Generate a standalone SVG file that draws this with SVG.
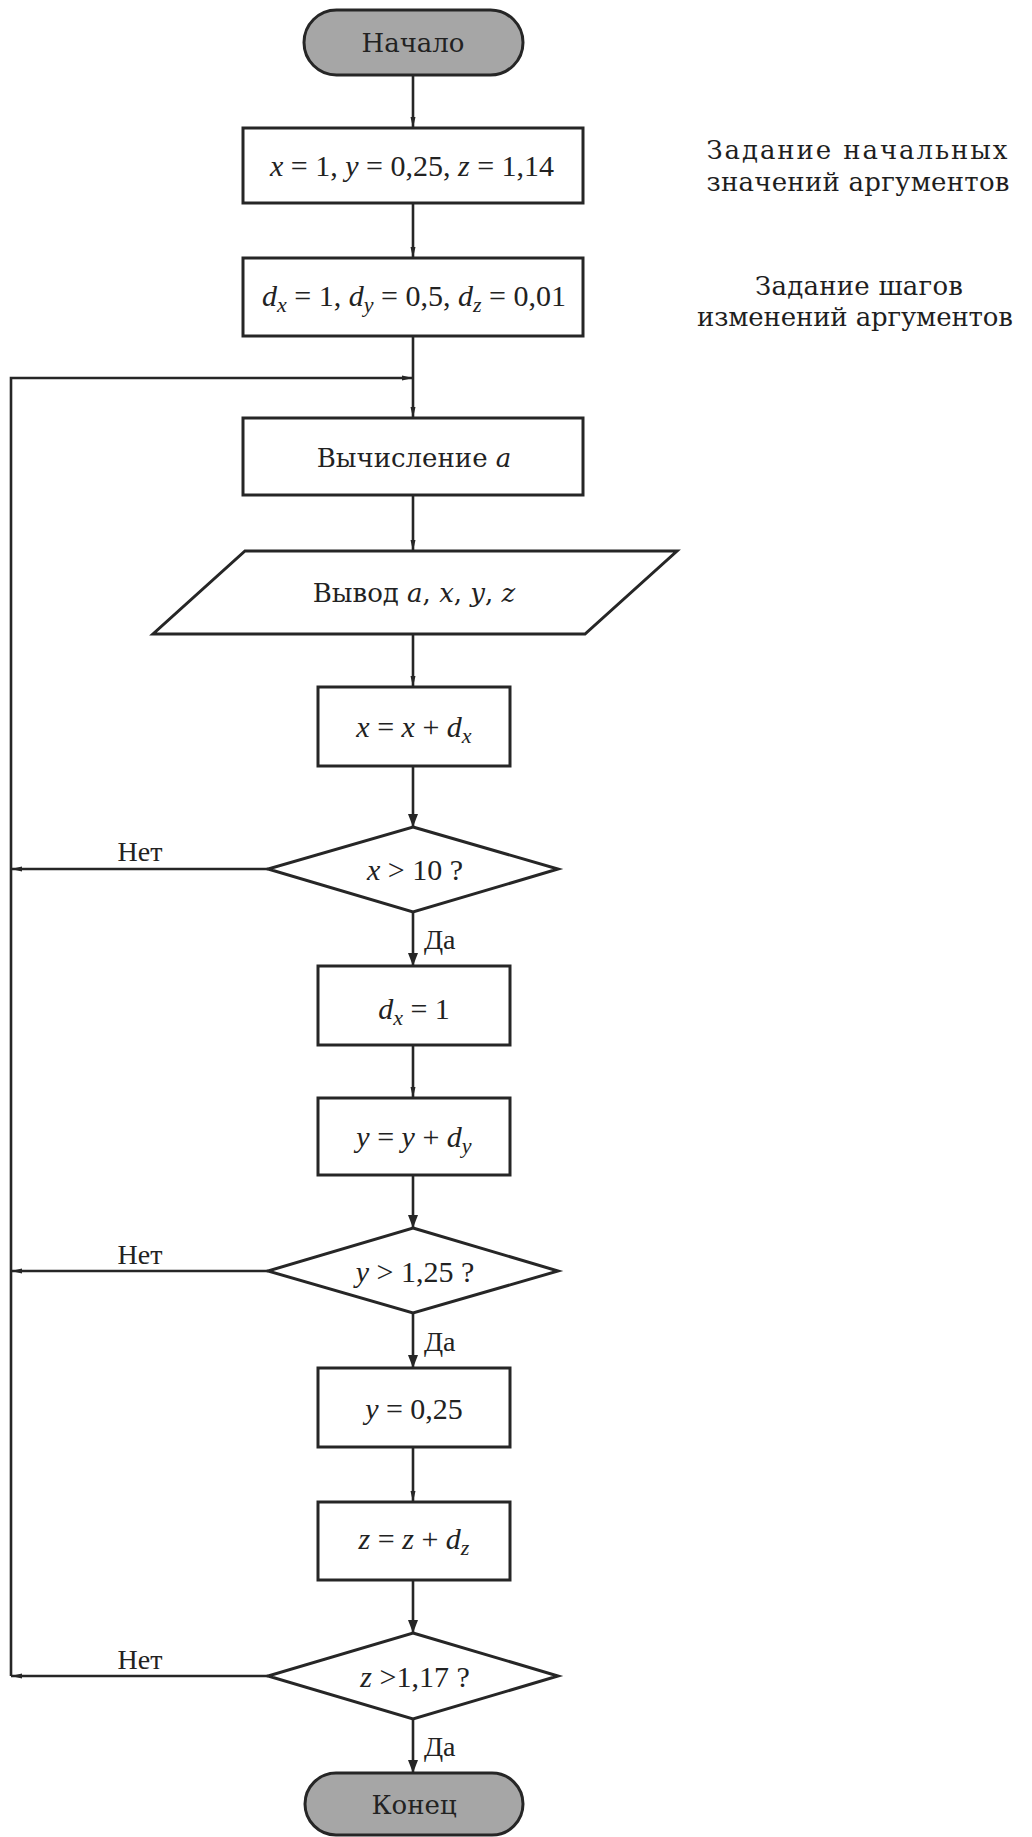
<svg xmlns="http://www.w3.org/2000/svg" width="1032" height="1837" viewBox="0 0 1032 1837">
<style>
.bg{fill:#ffffff}
.shape{fill:#ffffff;stroke:#262626;stroke-width:3}
.term{fill:#a6a6a6;stroke:#262626;stroke-width:3}
.conn{fill:none;stroke:#262626;stroke-width:2.6}
.t{font-family:"DejaVu Serif","Liberation Serif",serif;font-size:26px;fill:#222;text-anchor:middle}
.m{font-family:"Liberation Serif","Times New Roman",serif;font-size:30px;fill:#222;text-anchor:middle}
.i{font-style:italic}
.lbl{font-family:"Liberation Serif","Times New Roman",serif;font-size:28px;fill:#222}
.note{font-family:"DejaVu Serif","Liberation Serif",serif;font-size:26px;fill:#1e1e1e;text-anchor:middle}
</style>
<defs>
<marker id="arr" markerUnits="userSpaceOnUse" markerWidth="14" markerHeight="10" refX="13" refY="5" orient="auto">
<path d="M0,0 L13,5 L0,10 z" fill="#262626"/>
</marker>
<marker id="tick" markerUnits="userSpaceOnUse" markerWidth="12" markerHeight="6" refX="11" refY="3" orient="auto">
<path d="M0,0.5 L11,3 L0,5.5 z" fill="#262626"/>
</marker>
</defs>
<rect class="bg" x="0" y="0" width="1032" height="1837"/>

<g id="connectors">
<line class="conn" x1="413" y1="75" x2="413" y2="128" marker-end="url(#tick)"/>
<line class="conn" x1="413" y1="203" x2="413" y2="258" marker-end="url(#tick)"/>
<line class="conn" x1="413" y1="336" x2="413" y2="418" marker-end="url(#tick)"/>
<line class="conn" x1="413" y1="495" x2="413" y2="551" marker-end="url(#tick)"/>
<line class="conn" x1="413" y1="634" x2="413" y2="687" marker-end="url(#tick)"/>
<line class="conn" x1="413" y1="766" x2="413" y2="827" marker-end="url(#arr)"/>
<line class="conn" x1="413" y1="912" x2="413" y2="966" marker-end="url(#arr)"/>
<line class="conn" x1="413" y1="1045" x2="413" y2="1098" marker-end="url(#tick)"/>
<line class="conn" x1="413" y1="1175" x2="413" y2="1228" marker-end="url(#arr)"/>
<line class="conn" x1="413" y1="1313" x2="413" y2="1368" marker-end="url(#arr)"/>
<line class="conn" x1="413" y1="1447" x2="413" y2="1502" marker-end="url(#tick)"/>
<line class="conn" x1="413" y1="1580" x2="413" y2="1633" marker-end="url(#arr)"/>
<line class="conn" x1="413" y1="1719" x2="413" y2="1773" marker-end="url(#arr)"/>
<line class="conn" x1="268" y1="869" x2="11" y2="869" marker-end="url(#tick)"/>
<line class="conn" x1="268" y1="1271" x2="11" y2="1271" marker-end="url(#tick)"/>
<line class="conn" x1="268" y1="1676" x2="11" y2="1676" marker-end="url(#tick)"/>
<polyline class="conn" points="11,1676 11,378 413,378" marker-end="url(#tick)"/>
<text class="lbl" x="140" y="861" text-anchor="middle">Нет</text>
<text class="lbl" x="140" y="1264" text-anchor="middle">Нет</text>
<text class="lbl" x="140" y="1669" text-anchor="middle">Нет</text>
<text class="lbl" x="424" y="949">Да</text>
<text class="lbl" x="424" y="1351">Да</text>
<text class="lbl" x="424" y="1756">Да</text>
</g>

<g id="start">
<rect class="term" x="304" y="10" width="219" height="65" rx="32.5"/>
<text class="t" x="413" y="52">Начало</text>
</g>

<g id="init">
<rect class="shape" x="243" y="128" width="340" height="75"/>
<text class="m" x="412" y="176"><tspan class="i">x</tspan> = 1, <tspan class="i">y</tspan> = 0,25, <tspan class="i">z</tspan> = 1,14</text>
</g>

<g id="steps">
<rect class="shape" x="243" y="258" width="340" height="78"/>
<text class="m" x="414" y="306"><tspan class="i">d</tspan><tspan class="i" font-size="22" dy="6">x</tspan><tspan dy="-6"> = 1, </tspan><tspan class="i">d</tspan><tspan class="i" font-size="22" dy="6">y</tspan><tspan dy="-6"> = 0,5, </tspan><tspan class="i">d</tspan><tspan class="i" font-size="22" dy="6">z</tspan><tspan dy="-6"> = 0,01</tspan></text>
</g>

<g id="compute">
<rect class="shape" x="243" y="418" width="340" height="77"/>
<text class="t" x="414" y="467">Вычисление <tspan class="i">a</tspan></text>
</g>

<g id="output">
<polygon class="shape" points="245,551 677,551 585,634 153,634"/>
<text class="t" x="414" y="602">Вывод <tspan class="i">a</tspan>, <tspan class="i">x</tspan>, <tspan class="i">y</tspan>, <tspan class="i">z</tspan></text>
</g>

<g id="incx">
<rect class="shape" x="318" y="687" width="192" height="79"/>
<text class="m" x="414" y="737"><tspan class="i">x</tspan> = <tspan class="i">x</tspan> + <tspan class="i">d</tspan><tspan class="i" font-size="22" dy="6">x</tspan></text>
</g>

<g id="condx">
<polygon class="shape" points="413,827 558,869 413,912 268,869"/>
<text class="m" x="415" y="880"><tspan class="i">x</tspan> &gt; 10 ?</text>
</g>

<g id="resetdx">
<rect class="shape" x="318" y="966" width="192" height="79"/>
<text class="m" x="414" y="1019"><tspan class="i">d</tspan><tspan class="i" font-size="22" dy="6">x</tspan><tspan dy="-6"> = 1</tspan></text>
</g>

<g id="incy">
<rect class="shape" x="318" y="1098" width="192" height="77"/>
<text class="m" x="414" y="1147"><tspan class="i">y</tspan> = <tspan class="i">y</tspan> + <tspan class="i">d</tspan><tspan class="i" font-size="22" dy="6">y</tspan></text>
</g>

<g id="condy">
<polygon class="shape" points="413,1228 558,1271 413,1313 268,1271"/>
<text class="m" x="415" y="1282"><tspan class="i">y</tspan> &gt; 1,25 ?</text>
</g>

<g id="resety">
<rect class="shape" x="318" y="1368" width="192" height="79"/>
<text class="m" x="414" y="1419"><tspan class="i">y</tspan> = 0,25</text>
</g>

<g id="incz">
<rect class="shape" x="318" y="1502" width="192" height="78"/>
<text class="m" x="414" y="1549"><tspan class="i">z</tspan> = <tspan class="i">z</tspan> + <tspan class="i">d</tspan><tspan class="i" font-size="22" dy="6">z</tspan></text>
</g>

<g id="condz">
<polygon class="shape" points="413,1633 558,1676 413,1719 268,1676"/>
<text class="m" x="415" y="1687"><tspan class="i">z</tspan> &gt;1,17 ?</text>
</g>

<g id="end">
<rect class="term" x="305" y="1773" width="218" height="62" rx="31"/>
<text class="t" x="414" y="1814">Конец</text>
</g>

<g id="notes">
<text class="note" x="857" y="159" textLength="301" lengthAdjust="spacing">Задание начальных</text>
<text class="note" x="858" y="191" textLength="303" lengthAdjust="spacing">значений аргументов</text>
<text class="note" x="859" y="295" textLength="208" lengthAdjust="spacing">Задание шагов</text>
<text class="note" x="855" y="326" textLength="316" lengthAdjust="spacing">изменений аргументов</text>
</g>
</svg>
